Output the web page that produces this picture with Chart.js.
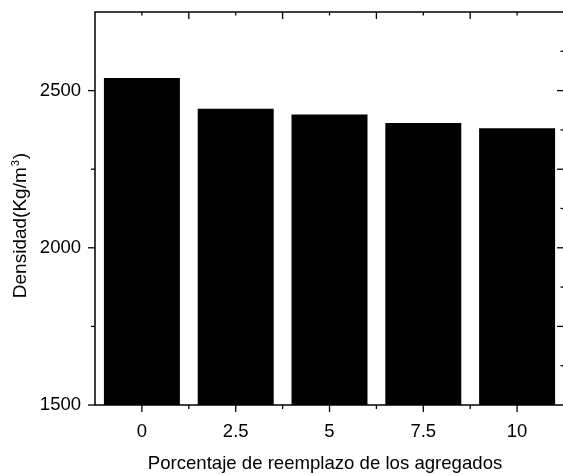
<!DOCTYPE html>
<html>
<head>
<meta charset="utf-8">
<script src="https://cdn.jsdelivr.net/npm/chart.js@4"></script>
<style>
  html, body { margin: 0; padding: 0; background: #fff; overflow: hidden; }
  #wrap { width: 570px; height: 475px; }
</style>
</head>
<body>
<div id="wrap"><canvas id="c" width="570" height="475"></canvas></div>
<script>
// ---- data ----
const categories = ['0', '2.5', '5', '7.5', '10'];
const densidad = [2540, 2442, 2424, 2397, 2380];
const yMin = 1500;
const yMax = 2750;
const yTickLabels = [1500, 2000, 2500];
const yMinorLeft = [1750, 2250];
const yMajorRight = [1750, 2000, 2250, 2500];
const yMinorRight = [1625, 1875, 2125, 2375, 2625];
const xTitle = 'Porcentaje de reemplazo de los agregados';
const yTitleMain = 'Densidad(Kg/m';
const yTitleSup = '3';
const yTitleEnd = ')';

const FONT = '"Liberation Sans", Arial, sans-serif';

const framePlugin = {
  id: 'frame',
  afterDraw(chart) {
    const ctx = chart.ctx;
    const { left, right, top, bottom } = chart.chartArea;
    const xs = chart.scales.x, ys = chart.scales.y;
    ctx.save();
    ctx.strokeStyle = '#000';
    ctx.lineWidth = 1.5;
    ctx.strokeRect(left, top, right - left, bottom - top);
    ctx.lineWidth = 1.3;
    const line = (x0, y0, x1, y1) => { ctx.beginPath(); ctx.moveTo(x0, y0); ctx.lineTo(x1, y1); ctx.stroke(); };
    // left axis ticks (outward)
    yTickLabels.forEach(v => { const p = ys.getPixelForValue(v); line(left - 7, p, left, p); });
    yMinorLeft.forEach(v => { const p = ys.getPixelForValue(v); line(left - 4, p, left, p); });
    // right axis ticks (inward)
    yMajorRight.forEach(v => { const p = ys.getPixelForValue(v); line(right - 7, p, right, p); });
    yMinorRight.forEach(v => { const p = ys.getPixelForValue(v); line(right - 3.5, p, right, p); });
    // x ticks
    const centers = categories.map((c, i) => xs.getPixelForValue(i));
    const bounds = [];
    for (let i = 0; i < centers.length - 1; i++) bounds.push((centers[i] + centers[i + 1]) / 2);
    centers.forEach(p => { line(p, bottom, p, bottom + 7); line(p, top, p, top + 3.5); });
    bounds.forEach(p => { line(p, bottom, p, bottom + 4); line(p, top, p, top + 7); });
    // titles
    ctx.fillStyle = '#000';
    ctx.font = '18.6px ' + FONT;
    ctx.textBaseline = 'alphabetic';
    ctx.textAlign = 'center';
    ctx.fillText(xTitle, 325, 469);
    // y title rotated
    ctx.save();
    ctx.translate(26, 225.5);
    ctx.rotate(-Math.PI / 2);
    ctx.textAlign = 'left';
    ctx.font = '19px ' + FONT;
    const w1 = ctx.measureText(yTitleMain).width;
    const w3 = ctx.measureText(yTitleEnd).width;
    ctx.font = '11px ' + FONT;
    const w2 = ctx.measureText(yTitleSup).width;
    const total = w1 + w2 + w3 + 2;
    let x0 = -total / 2;
    ctx.font = '19px ' + FONT;
    ctx.fillText(yTitleMain, x0, 0);
    ctx.font = '11px ' + FONT;
    ctx.fillText(yTitleSup, x0 + w1 + 1, -7.5);
    ctx.font = '19px ' + FONT;
    ctx.fillText(yTitleEnd, x0 + w1 + w2 + 2, 0);
    ctx.restore();
    ctx.restore();
  }
};

new Chart(document.getElementById('c'), {
  type: 'bar',
  data: {
    labels: categories,
    datasets: [{
      data: densidad,
      backgroundColor: '#000',
      borderWidth: 0,
      barPercentage: 0.81,
      categoryPercentage: 1.0
    }]
  },
  options: {
    responsive: false,
    animation: false,
    devicePixelRatio: 1,
    layout: { padding: { top: 12, right: 6, left: 0, bottom: 0 } },
    plugins: { legend: { display: false }, tooltip: { enabled: false } },
    scales: {
      x: {
        offset: true,
        grid: { display: false, drawTicks: false },
        border: { display: false },
        ticks: { color: '#000', font: { family: FONT, size: 18.5 }, padding: 16, maxRotation: 0, autoSkip: false },
        afterFit(scale) { scale.height = 70; scale.paddingLeft = 0; scale.paddingRight = 0; }
      },
      y: {
        min: yMin,
        max: yMax,
        grid: { display: false, drawTicks: false },
        border: { display: false },
        ticks: {
          color: '#000', font: { family: FONT, size: 18.5 }, padding: 14, stepSize: 500,
          callback: (v) => String(v)
        },
        afterBuildTicks(scale) { scale.ticks = yTickLabels.map(v => ({ value: v })); },
        afterFit(scale) { scale.width = 95; scale.paddingTop = 0; scale.paddingBottom = 0; }
      }
    }
  },
  plugins: [framePlugin]
});
</script>
</body>
</html>
